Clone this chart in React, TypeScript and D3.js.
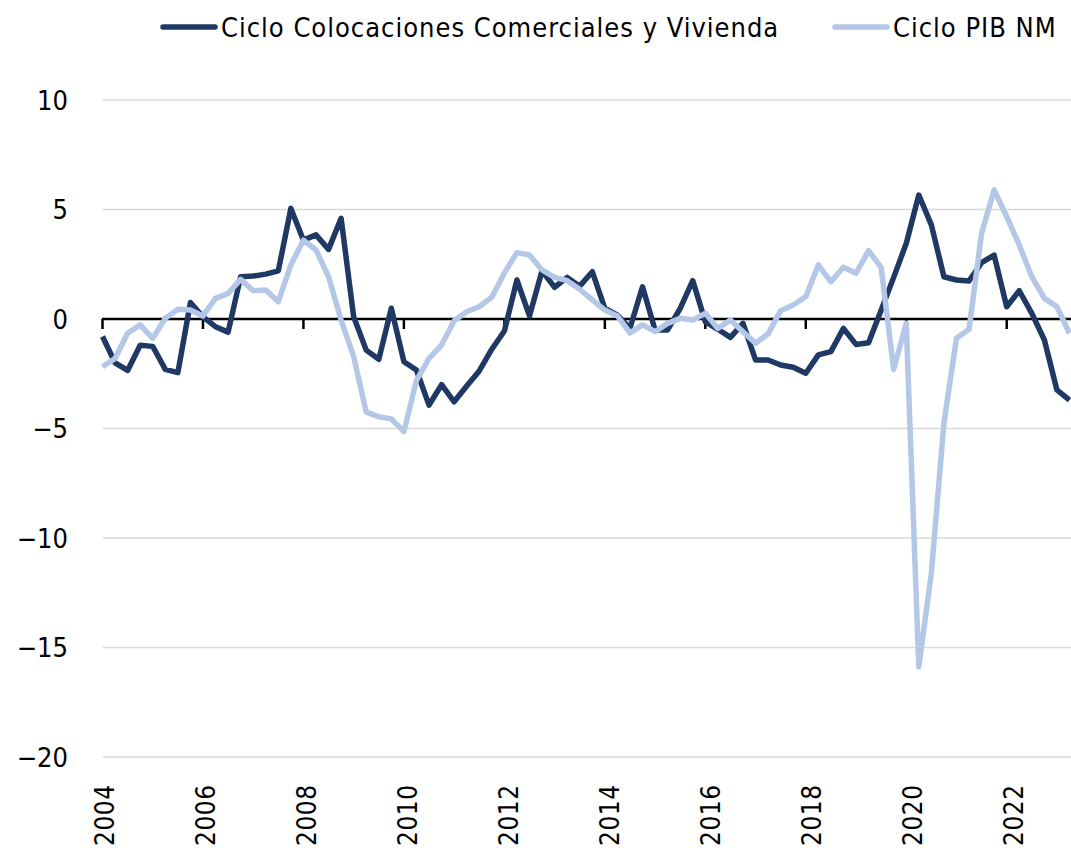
import React, { useEffect, useRef } from 'react';
import * as d3 from 'd3';

// quarterly, 2004Q1 .. 2023Q2
const startYear = 2004;

const colocaciones = [
  -0.8, -2.0, -2.35, -1.2, -1.25, -2.3, -2.45, 0.75,
  0.1, -0.35, -0.6, 1.93, 1.96, 2.05, 2.2, 5.05,
  3.6, 3.84, 3.18, 4.6, 0.1, -1.42, -1.84, 0.49,
  -1.95, -2.33, -3.93, -3.0, -3.78, -3.06, -2.37, -1.38,
  -0.55, 1.78, 0.14, 2.2, 1.45, 1.9, 1.5, 2.16,
  0.49, 0.18, -0.42, 1.47, -0.5, -0.5, 0.49, 1.75,
  -0.12, -0.47, -0.84, -0.2, -1.87, -1.87, -2.1, -2.2,
  -2.48, -1.64, -1.49, -0.43, -1.16, -1.08, 0.4, 1.9,
  3.45, 5.66, 4.3, 1.93, 1.78, 1.74, 2.57, 2.92,
  0.56, 1.29, 0.26, -0.96, -3.24, -3.7,
];

const pibNM = [
  -2.18, -1.8, -0.65, -0.27, -0.88, 0.03, 0.44, 0.41,
  0.14, 0.94, 1.17, 1.81, 1.29, 1.32, 0.79, 2.47,
  3.6, 3.15, 1.93, -0.05, -1.72, -4.25, -4.46, -4.56,
  -5.14, -2.8, -1.8, -1.19, -0.08, 0.33, 0.56, 0.99,
  2.1, 3.03, 2.92, 2.24, 1.9, 1.75, 1.36, 0.87,
  0.41, 0.14, -0.63, -0.27, -0.58, -0.2, 0.03, -0.05,
  0.26, -0.43, -0.05, -0.58, -1.11, -0.68, 0.38, 0.64,
  1.02, 2.47, 1.7, 2.36, 2.09, 3.12, 2.36, -2.3,
  -0.2, -15.88, -11.6, -4.76, -0.88, -0.47, 3.91, 5.89,
  4.67, 3.38, 1.93, 0.94, 0.56, -0.65,
];

const yTicks = [10, 5, 0, -5, -10, -15, -20];
const seriesNames = ['Ciclo Colocaciones Comerciales y Vivienda', 'Ciclo PIB NM'];
const seriesColors = ['#203864', '#b4c7e7'];

const W = 1071;
const H = 848;
const FONT = '"DejaVu Sans Condensed", "Liberation Sans Narrow", sans-serif';

export default function App() {
  const ref = useRef<SVGSVGElement>(null);

  useEffect(() => {
    const svg = d3.select(ref.current);
    svg.selectAll('*').remove();

    const n = colocaciones.length;
    const x = d3.scaleLinear().domain([0, n - 1]).range([102.5, 1069.5]);
    const y = d3.scaleLinear().domain([-20, 10]).range([757, 100]);

    // gridlines
    svg.append('g')
      .selectAll('line')
      .data(yTicks.filter(d => d !== 0))
      .join('line')
      .attr('x1', 103)
      .attr('x2', W)
      .attr('y1', d => y(d))
      .attr('y2', d => y(d))
      .attr('stroke', '#d9d9d9')
      .attr('stroke-width', 1.5);

    // y labels
    svg.append('g')
      .selectAll('text')
      .data(yTicks)
      .join('text')
      .attr('x', 68)
      .attr('y', d => y(d))
      .attr('dy', '0.36em')
      .attr('text-anchor', 'end')
      .attr('font-family', FONT)
      .attr('font-size', 27)
      .attr('fill', '#000')
      .text(d => (d < 0 ? '\u2212' + Math.abs(d) : String(d)));

    // zero axis with ticks every 2 years
    const tickIdx = d3.range(0, n, 8);
    svg.append('line')
      .attr('x1', 102)
      .attr('x2', W)
      .attr('y1', y(0))
      .attr('y2', y(0))
      .attr('stroke', '#000')
      .attr('stroke-width', 2.5);
    svg.append('g')
      .selectAll('line')
      .data(tickIdx)
      .join('line')
      .attr('x1', d => x(d))
      .attr('x2', d => x(d))
      .attr('y1', y(0))
      .attr('y2', y(0) + 10)
      .attr('stroke', '#000')
      .attr('stroke-width', 2.5);

    // x labels, rotated
    svg.append('g')
      .selectAll('text')
      .data(tickIdx)
      .join('text')
      .attr('transform', d => `translate(${x(d) + 2 + d * 0.07},846) rotate(-90)`)
      .attr('dy', '0.36em')
      .attr('text-anchor', 'start')
      .attr('font-family', FONT)
      .attr('font-size', 26)
      .attr('letter-spacing', 0.5)
      .attr('fill', '#000')
      .text(d => String(startYear + d / 4));

    const line = d3.line<number>()
      .x((_, i) => x(i))
      .y(d => y(d));

    [colocaciones, pibNM].forEach((s, k) => {
      svg.append('path')
        .datum(s)
        .attr('fill', 'none')
        .attr('stroke', seriesColors[k])
        .attr('stroke-width', 5.5)
        .attr('stroke-linejoin', 'round')
        .attr('d', line);
    });

    // legend
    const legendX = [163, 835];
    const lg = svg.append('g');
    seriesNames.forEach((name, k) => {
      lg.append('line')
        .attr('x1', legendX[k])
        .attr('x2', legendX[k] + 52)
        .attr('y1', 27)
        .attr('y2', 27)
        .attr('stroke', seriesColors[k])
        .attr('stroke-width', 5.5)
        .attr('stroke-linecap', 'round');
      lg.append('text')
        .attr('x', legendX[k] + 58)
        .attr('y', 27)
        .attr('dy', '0.36em')
        .attr('font-family', FONT)
        .attr('font-size', 27)
        .attr('letter-spacing', 1)
        .attr('fill', '#000')
        .text(name);
    });
  }, []);

  return (
    <svg ref={ref} width={W} height={H}
         style={{ position: 'absolute', left: 0, top: 0, background: '#fff', display: 'block' }} />
  );
}
